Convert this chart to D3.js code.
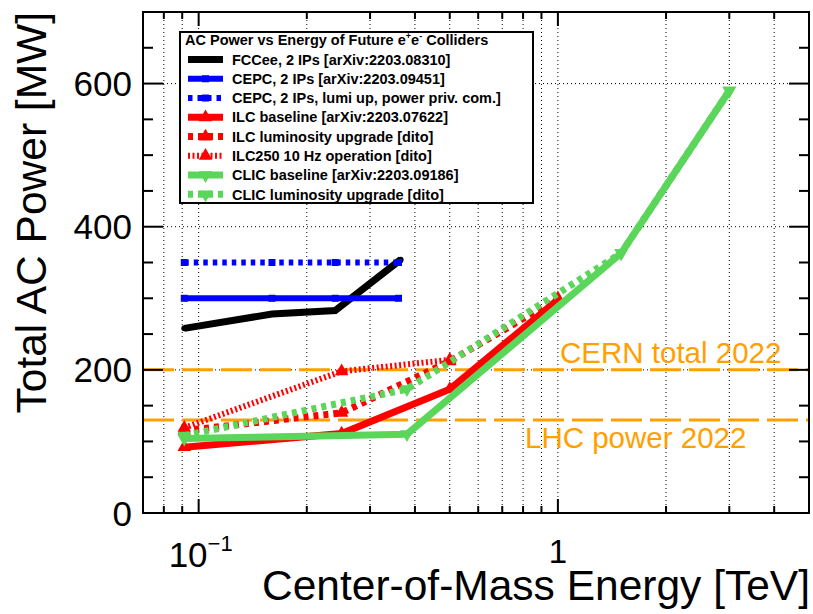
<!DOCTYPE html>
<html>
<head>
<meta charset="utf-8">
<script src="https://cdn.jsdelivr.net/npm/d3@7"></script>
<style>
  body { margin: 0; background: #fff; }
  text { font-family: "Liberation Sans", Arial, sans-serif; }
</style>
</head>
<body>
<div id="chart"></div>
<script>
// data (energy in TeV, power in MW)
var fccX = [0.0912, 0.16, 0.24, 0.365];
var fccY = [258, 278, 283, 354];
var cepcX = [0.0912, 0.16, 0.24, 0.36];
var cepcY = [300, 300, 300, 300];
var cepcLumiY = [350, 350, 350, 350];
var ilcX = [0.0912, 0.25, 0.5, 1.0];
var ilcY = [92, 111, 173, 298];
var ilcLumiY = [115, 140, 212, 300];
var ilc10X = [0.0912, 0.25, 0.5];
var ilc10Y = [119, 198, 214];
var clicX = [0.0912, 0.38, 1.5, 3.0];
var clicY = [104, 110, 363, 590];
var clicLumiY = [108, 173, 363, 590];

var cernTotal = 200;
var lhcPower = 130;

var xMinor = [0.08, 0.09, 0.2, 0.3, 0.4, 0.5, 0.6, 0.7, 0.8, 0.9, 2, 3, 4];
var xMajor = [0.1, 1];
var yMajor = [0, 200, 400, 600];
var yMinor = [50, 100, 150, 250, 300, 350, 450, 500, 550, 650];

var svgWidth = 813;
var svgHeight = 614;

var frame = { left: 143, right: 809, top: 12, bottom: 513 };

var svg = d3.select("#chart")
  .append("svg")
  .attr("width", svgWidth)
  .attr("height", svgHeight);

var x = d3.scaleLog().domain([0.07, 5]).range([frame.left, frame.right]);
var y = d3.scaleLinear().domain([0, 700]).range([frame.bottom, frame.top]);

var green = "#5ad65a";
var orange = "#ffa000";

// grid
var grid = svg.append("g").attr("stroke", "#000").attr("stroke-width", 1)
  .attr("stroke-dasharray", "1,3");
xMinor.concat(xMajor).forEach(function(v) {
  grid.append("line").attr("x1", x(v)).attr("x2", x(v))
    .attr("y1", frame.top).attr("y2", frame.bottom);
});
[200, 400, 600].forEach(function(v) {
  grid.append("line").attr("x1", frame.left).attr("x2", frame.right)
    .attr("y1", y(v)).attr("y2", y(v));
});

// reference lines
[cernTotal, lhcPower].forEach(function(v) {
  svg.append("line")
    .attr("x1", frame.left).attr("x2", frame.right)
    .attr("y1", y(v)).attr("y2", y(v))
    .attr("stroke", orange).attr("stroke-width", 3)
    .attr("stroke-dasharray", "31,8");
});
svg.append("text").attr("x", 560).attr("y", 363)
  .attr("font-size", 29.5).attr("fill", orange).text("CERN total 2022");
svg.append("text").attr("x", 525).attr("y", 448)
  .attr("font-size", 29.5).attr("fill", orange).text("LHC power 2022");

// series
var series = [
  { name: "FCCee, 2 IPs [arXiv:2203.08310]", xs: fccX, ys: fccY, color: "#000", dash: null, width: 7, marker: "circle" },
  { name: "CEPC, 2 IPs [arXiv:2203.09451]", xs: cepcX, ys: cepcY, color: "#0000ff", dash: null, width: 6, marker: "square" },
  { name: "CEPC, 2 IPs, lumi up, power priv. com.]", xs: cepcX, ys: cepcLumiY, color: "#0000ff", dash: "4.5,5", width: 6, marker: "square" },
  { name: "ILC baseline [arXiv:2203.07622]", xs: ilcX, ys: ilcY, color: "#ff0000", dash: null, width: 7, marker: "up" },
  { name: "ILC luminosity upgrade [dito]", xs: ilcX, ys: ilcLumiY, color: "#ff0000", dash: "5,5", width: 7, marker: "up" },
  { name: "ILC250 10 Hz operation [dito]", xs: ilc10X, ys: ilc10Y, color: "#ff0000", dash: "2,2.5", width: 6, marker: "up" },
  { name: "CLIC baseline [arXiv:2203.09186]", xs: clicX, ys: clicY, color: green, dash: null, width: 7, marker: "down" },
  { name: "CLIC luminosity upgrade [dito]", xs: clicX, ys: clicLumiY, color: green, dash: "5,5", width: 7, marker: "down" }
];

function markerPath(kind) {
  if (kind === "circle") return d3.symbol(d3.symbolCircle, 28)();
  if (kind === "square") return d3.symbol(d3.symbolSquare, 49)();
  return d3.symbol(d3.symbolTriangle, 80)();
}

function drawMarker(g, kind, cx, cy, color) {
  g.append("path")
    .attr("d", markerPath(kind))
    .attr("transform", "translate(" + cx + "," + cy + ")" + (kind === "down" ? " rotate(180)" : ""))
    .attr("fill", color);
}

var line = d3.line().x(d => x(d[0])).y(d => y(d[1]));

series.forEach(function(s) {
  var pts = s.xs.map((v, i) => [v, s.ys[i]]);
  var g = svg.append("g");
  g.append("path")
    .attr("d", line(pts))
    .attr("fill", "none")
    .attr("stroke", s.color)
    .attr("stroke-width", s.width)
    .attr("stroke-dasharray", s.dash);
  pts.forEach(function(p) {
    drawMarker(g, s.marker, x(p[0]), y(p[1]), s.color);
  });
});

// frame
svg.append("rect")
  .attr("x", frame.left).attr("y", frame.top)
  .attr("width", frame.right - frame.left).attr("height", frame.bottom - frame.top)
  .attr("fill", "none").attr("stroke", "#000").attr("stroke-width", 2);

// ticks
var ticks = svg.append("g").attr("stroke", "#000").attr("stroke-width", 2);
xMajor.concat(xMinor).forEach(function(v) {
  var len = xMajor.indexOf(v) >= 0 ? 14 : 7;
  ticks.append("line").attr("x1", x(v)).attr("x2", x(v))
    .attr("y1", frame.bottom).attr("y2", frame.bottom - len);
  ticks.append("line").attr("x1", x(v)).attr("x2", x(v))
    .attr("y1", frame.top).attr("y2", frame.top + len);
});
yMajor.concat(yMinor).forEach(function(v) {
  var len = yMajor.indexOf(v) >= 0 ? 20 : 10;
  ticks.append("line").attr("x1", frame.left).attr("x2", frame.left + len)
    .attr("y1", y(v)).attr("y2", y(v));
  ticks.append("line").attr("x1", frame.right).attr("x2", frame.right - len)
    .attr("y1", y(v)).attr("y2", y(v));
});

// tick labels
yMajor.forEach(function(v) {
  svg.append("text")
    .attr("x", 132).attr("y", y(v) + 12.5)
    .attr("text-anchor", "end")
    .attr("font-size", 35)
    .text(v);
});
var lab01 = svg.append("text")
  .attr("x", x(0.1) + 2).attr("y", 567)
  .attr("text-anchor", "middle")
  .attr("font-size", 35);
lab01.append("tspan").text("10");
lab01.append("tspan").attr("font-size", 22).attr("dy", -16).text("\u22121");
svg.append("text")
  .attr("x", x(1)).attr("y", 563)
  .attr("text-anchor", "middle")
  .attr("font-size", 33)
  .text("1");

// axis titles
svg.append("text")
  .attr("x", 810).attr("y", 600)
  .attr("text-anchor", "end")
  .attr("font-size", 42.5)
  .text("Center-of-Mass Energy [TeV]");
svg.append("text")
  .attr("transform", "translate(46,12) rotate(-90)")
  .attr("text-anchor", "end")
  .attr("font-size", 42.5)
  .text("Total AC Power [MW]");

// legend
var legend = svg.append("g");
legend.append("rect")
  .attr("x", 180).attr("y", 32).attr("width", 353).attr("height", 171)
  .attr("fill", "#fff").attr("stroke", "#000").attr("stroke-width", 2);
var title = legend.append("text")
  .attr("x", 185).attr("y", 45)
  .attr("font-size", 14.5).attr("font-weight", "bold");
title.append("tspan").text("AC Power vs Energy of Future e");
title.append("tspan").attr("font-size", 9).attr("dy", -6).text("+");
title.append("tspan").attr("dy", 6).text("e");
title.append("tspan").attr("font-size", 9).attr("dy", -6).text("-");
title.append("tspan").attr("dy", 6).text(" Colliders");

series.forEach(function(s, i) {
  var ry = 59.5 + i * 19.26;
  legend.append("line")
    .attr("x1", 188).attr("x2", 223).attr("y1", ry).attr("y2", ry)
    .attr("stroke", s.color).attr("stroke-width", s.width)
    .attr("stroke-dasharray", s.dash);
  drawMarker(legend, s.marker, 205.5, ry, s.color);
  legend.append("text")
    .attr("x", 232).attr("y", ry + 5.2)
    .attr("font-size", 14.5).attr("font-weight", "bold")
    .text(s.name);
});
</script>
</body>
</html>
